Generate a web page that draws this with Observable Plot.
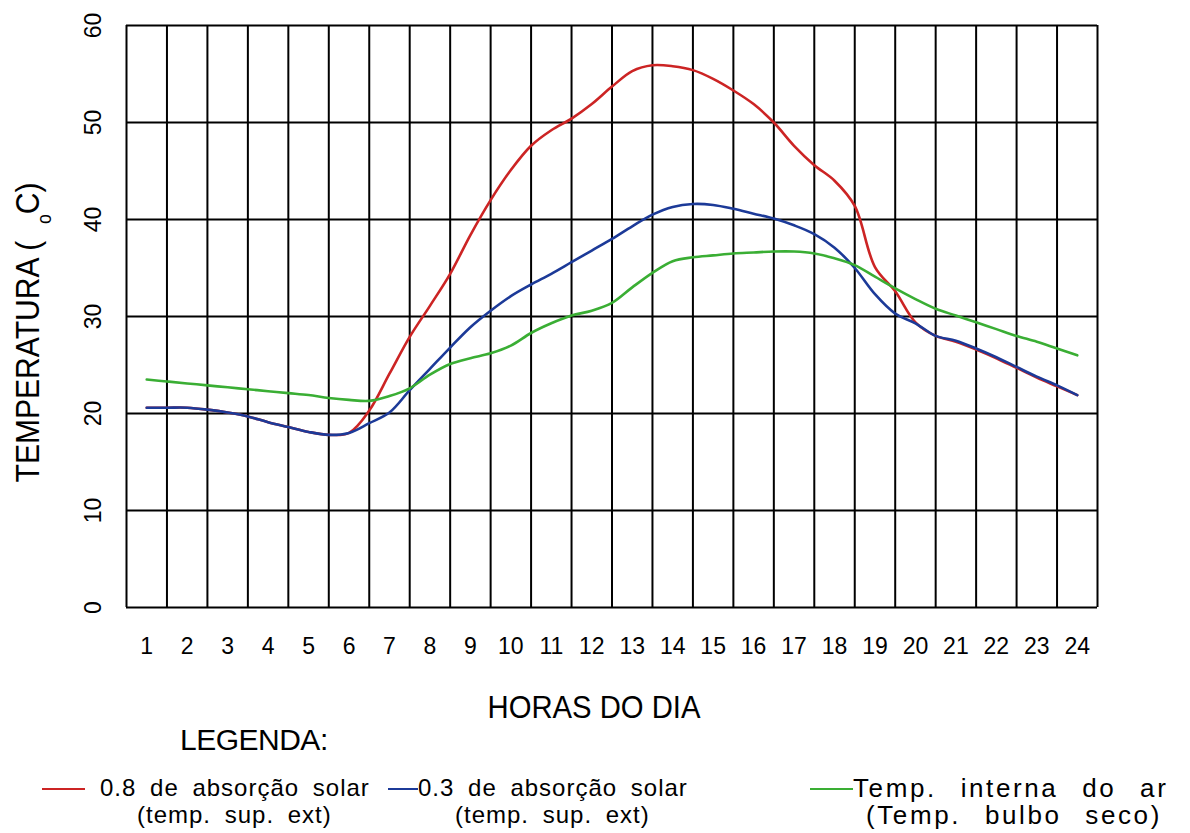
<!DOCTYPE html>
<html><head><meta charset="utf-8">
<script src="https://cdn.jsdelivr.net/npm/d3@7"></script>
<script src="https://cdn.jsdelivr.net/npm/@observablehq/plot@0.6"></script>
<style>
body{margin:0;background:#fff;font-family:"Liberation Sans",Arial,sans-serif;}
#wrap{position:relative;width:1190px;height:833px;overflow:hidden;background:#fff;}
#legend{position:relative;width:1190px;height:103px;}
#legend .t{position:absolute;white-space:nowrap;font-size:24px;letter-spacing:1px;word-spacing:6px;line-height:24px;color:#000;}
#legend .tw{position:absolute;white-space:nowrap;font-size:26px;letter-spacing:2.6px;word-spacing:14px;line-height:24px;color:#000;}
#legend .h{position:absolute;white-space:nowrap;font-size:30px;line-height:32px;color:#000;letter-spacing:-0.5px;}
#legend .ln{position:absolute;height:2px;}
</style></head><body>
<div id="wrap"><div id="chart"></div><div id="legend"></div></div>
<script>
// Horas do dia (leituras a cada meia hora)
const horas = [1,1.5,2,2.5,3,3.5,4,4.5,5,5.5,6,6.5,7,7.5,8,8.5,9,9.5,10,10.5,11,11.5,12,12.5,13,13.5,14,14.5,15,15.5,16,16.5,17,17.5,18,18.5,19,19.5,20,20.5,21,21.5,22,22.5,23,23.5,24];
// 0.8 de absorção solar (temp. sup. ext)
const absorcao08 = [20.6,20.6,20.6,20.4,20.1,19.7,19.1,18.6,18.1,17.8,18.0,20.3,24.1,27.9,31.1,34.4,38.4,42.0,45.1,47.6,49.2,50.4,51.9,53.7,55.3,55.9,55.8,55.4,54.5,53.3,51.9,50.0,47.6,45.6,44.0,41.4,35.1,32.6,29.4,28.0,27.4,26.6,25.7,24.7,23.7,22.8,21.9];
// 0.3 de absorção solar (temp. sup. ext)
const absorcao03 = [20.6,20.6,20.6,20.4,20.1,19.7,19.1,18.6,18.1,17.8,18.0,19.0,20.1,22.4,24.6,26.8,28.9,30.6,32.1,33.3,34.4,35.6,36.8,38.0,39.3,40.5,41.3,41.6,41.5,41.1,40.6,40.1,39.4,38.5,37.1,35.0,32.3,30.3,29.3,28.0,27.5,26.7,25.8,24.8,23.8,22.9,21.9];
// Temp. interna do ar (Temp. bulbo seco)
const tempInterna = [23.5,23.3,23.1,22.9,22.7,22.5,22.3,22.1,21.9,21.6,21.4,21.3,21.8,22.6,24.0,25.1,25.7,26.2,27.0,28.3,29.3,30.1,30.6,31.4,33.0,34.5,35.7,36.1,36.3,36.5,36.6,36.7,36.7,36.5,36.0,35.3,34.1,32.9,31.8,30.8,30.1,29.4,28.7,28.0,27.4,26.7,26.0];

const xTicks = [1,2,3,4,5,6,7,8,9,10,11,12,13,14,15,16,17,18,19,20,21,22,23,24];
const xGrid = [0.5,1.5,2.5,3.5,4.5,5.5,6.5,7.5,8.5,9.5,10.5,11.5,12.5,13.5,14.5,15.5,16.5,17.5,18.5,19.5,20.5,21.5,22.5,23.5,24.5];
const yTicks = [0,10,20,30,40,50,60];

const seriesNames = ["0.8 de absorção solar", "0.3 de absorção solar", "Temp. interna do ar"];
const seriesSub = ["(temp. sup. ext)", "(temp. sup. ext)", "(Temp. bulbo seco)"];
const seriesColors = ["#cc2424", "#1c3a98", "#3aae34"];
const seriesValues = [absorcao08, absorcao03, tempInterna];

const rows = [];
seriesValues.forEach((vals, s) => horas.forEach((h, i) => rows.push({hora: h, temp: vals[i], serie: seriesNames[s]})));

const chart = Plot.plot({
  width: 1190, height: 730,
  marginLeft: 126, marginRight: 93, marginTop: 25, marginBottom: 123,
  style: {fontFamily: "'Liberation Sans', Arial, sans-serif", fontSize: "23px", color: "#000", background: "#fff", overflow: "visible"},
  x: {domain: [0.5, 24.5]},
  y: {domain: [0, 60]},
  color: {domain: seriesNames, range: seriesColors},
  marks: [
    Plot.ruleX(xGrid, {stroke: "#000", strokeWidth: 2}),
    Plot.ruleY(yTicks, {stroke: "#000", strokeWidth: 2}),
    Plot.lineY(rows, {x: "hora", y: "temp", stroke: "serie", strokeWidth: 2.6, curve: "catmull-rom"}),
    Plot.axisX(xTicks, {tickSize: 0, tickPadding: 30, fontSize: 23, label: "HORAS DO DIA", labelAnchor: "center", labelArrow: "none", labelOffset: 110}),
    Plot.axisY(yTicks, {tickSize: 0, tickRotate: -90, tickPadding: 26, fontSize: 23, label: "TEMPERATURA ( C)", labelAnchor: "center", labelArrow: "none", labelOffset: 112})
  ]
});
document.getElementById("chart").appendChild(chart);

// axis title styling
const ns = "http://www.w3.org/2000/svg";
const xl = chart.querySelector("g[aria-label='x-axis label'] text");
if (xl) {
  xl.setAttribute("font-size", "31"); xl.setAttribute("textLength", "213"); xl.setAttribute("lengthAdjust", "spacingAndGlyphs");
  xl.setAttribute("transform", "translate(-18,0) " + (xl.getAttribute("transform") || ""));
}
const yl = chart.querySelector("g[aria-label='y-axis label'] text");
if (yl) {
  yl.setAttribute("font-size", "34");
  while (yl.firstChild) yl.removeChild(yl.firstChild);
  const t1 = document.createElementNS(ns, "tspan"); t1.textContent = "TEMPERATURA (  ";
  const t2 = document.createElementNS(ns, "tspan"); t2.textContent = "o"; t2.setAttribute("font-size", "20"); t2.setAttribute("dy", "12");
  const t3 = document.createElementNS(ns, "tspan"); t3.textContent = "C)"; t3.setAttribute("dy", "-12");
  yl.append(t1, t2, t3);
  yl.setAttribute("textLength", "300"); yl.setAttribute("lengthAdjust", "spacingAndGlyphs");
  yl.setAttribute("transform", "translate(0,16) " + (yl.getAttribute("transform") || ""));
}

// legend
const lg = document.getElementById("legend");
function add(cls, txt, left, top) {
  const d = document.createElement("div"); d.className = cls; d.textContent = txt;
  d.style.left = left + "px"; d.style.top = top + "px";
  lg.appendChild(d); return d;
}
add("h", "LEGENDA:", 180, -6);
const lineX = [[42, 43], [388, 30], [810, 43]];
const textX = [100, 418, 853];
const subX = [137, 455, 866];
const cls = ["t", "t", "tw"];
seriesNames.forEach((name, i) => {
  const l = document.createElement("div"); l.className = "ln";
  l.style.left = lineX[i][0] + "px"; l.style.width = lineX[i][1] + "px"; l.style.top = "58px"; l.style.background = seriesColors[i];
  lg.appendChild(l);
  add(cls[i], name, textX[i], 46);
  add(cls[i], seriesSub[i], subX[i], 73);
});
</script>
</body></html>
